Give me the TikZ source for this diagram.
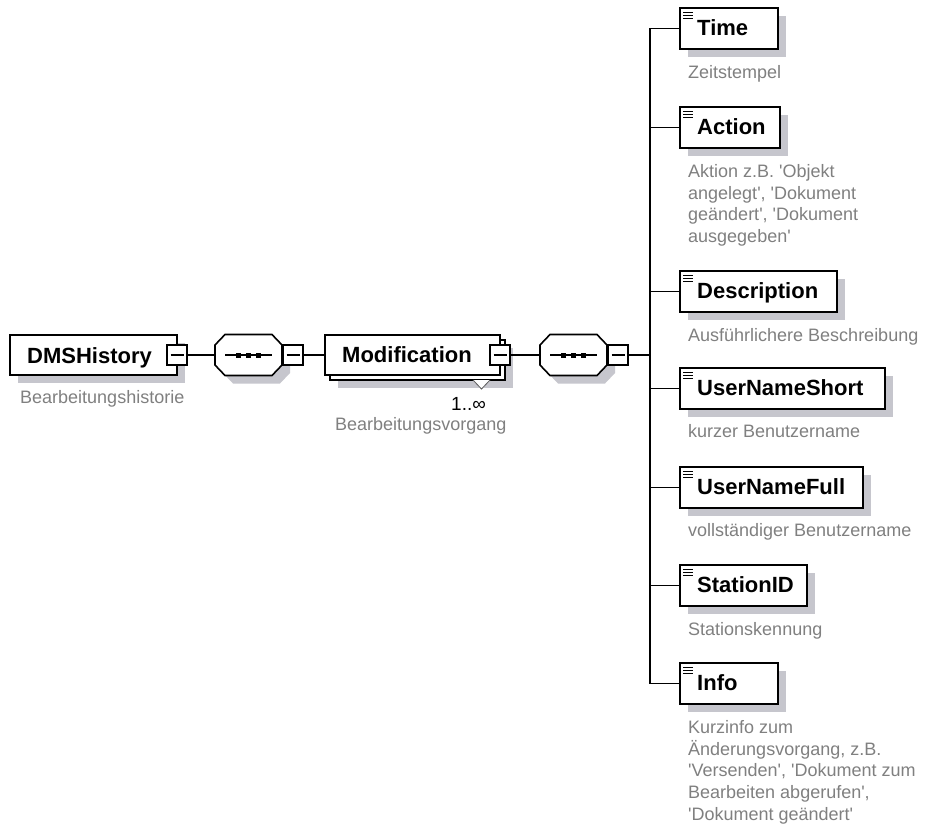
\documentclass[tikz,border=0pt]{standalone}
\usepackage{fontspec}
\setmainfont{Liberation Sans}[Ligatures=TeXOff]
\usetikzlibrary{shadows,calc}
\definecolor{shadowc}{RGB}{198,198,205}
\definecolor{labelc}{RGB}{128,128,128}
\definecolor{tric}{RGB}{90,90,90}
\newcommand\fl{\rule{0pt}{14pt}}
\newcommand\octshape[4]{%
  \path[#2] ($(#1.west)+(#3,#4-10)$) -- ($(#1.north west)+(#3+10,#4)$) -- ($(#1.north east)+(#3-10,#4)$) -- ($(#1.east)+(#3,#4-10)$) -- ($(#1.east)+(#3,#4+10)$) -- ($(#1.south east)+(#3-10,#4)$) -- ($(#1.south west)+(#3+10,#4)$) -- ($(#1.west)+(#3,#4+10)$) -- cycle;}
\newcommand\seqinner[1]{%
  \draw[line width=1.4pt] ($(#1.west)+(10,0)$) -- ($(#1.east)+(-10,0)$);
  \foreach \d in {-10,0,10} \fill ($(#1.center)+(\d-2.5,-2.5)$) rectangle ++(5,5);}
\newcommand\minusmark[1]{\draw[line width=1.5pt] ($(#1.west)+(3.5,0)$) -- ($(#1.east)+(-3.5,0)$);}
\newcommand\elemicon[1]{\foreach \k in {4.5,7.5,10.5} \draw[line width=1pt] ($(#1.north west)+(3,\k)$) -- ++(10,0);}
\tikzset{
 conn/.style={line width=1.6pt},
 plainbox/.style={draw, line width=1.6pt, fill=white, rectangle, inner sep=0pt, outer sep=0pt, anchor=north west},
 sbox/.style={plainbox, drop shadow={shadow xshift=8pt, shadow yshift=-8pt, fill=shadowc, opacity=1}},
 minusbox/.style={draw, line width=1.5pt, fill=white, rectangle, inner sep=0pt, outer sep=0pt, minimum width=20pt, minimum height=20pt},
 seqnode/.style={rectangle, inner sep=0pt, outer sep=0pt, minimum width=67pt, minimum height=41pt},
 nametext/.style={inner sep=0pt, anchor=base west, font=\fontsize{22}{26}\selectfont\bfseries},
 desc/.style={inner sep=0pt, anchor=north west, align=left, text=labelc, font=\fontsize{18}{21.8}\selectfont},
 mult/.style={inner sep=0pt, anchor=base west, font=\fontsize{19}{22}\selectfont},
}
\begin{document}
\begin{tikzpicture}[x=1pt,y=-1pt]
\useasboundingbox[fill=white] (0,0) rectangle (930,823);

% ---- DMSHistory
\node[sbox, minimum width=167pt, minimum height=40pt] (dms) at (10,335) {};
\node[nametext] (dmst) at (27,363) {DMSHistory};
\node[minusbox] (dmsm) at (177,355) {};
\minusmark{dmsm}
\node[desc] (dmsd) at (20,389) {\fl Bearbeitungshistorie};

% ---- sequence 1
\node[seqnode] (seq1) at (248.5,355) {};
\octshape{seq1}{fill=shadowc}{8}{8}
\octshape{seq1}{draw, fill=white, line width=1.6pt}{0}{0}
\seqinner{seq1}
\node[minusbox] (seq1m) at (293,355) {};
\minusmark{seq1m}

% ---- Modification
\node[sbox, minimum width=175pt, minimum height=40pt] (modb) at (330,340) {};
\filldraw[fill=white, draw=tric, line width=0.8pt] (473,380) -- (481.5,389) -- (490,380);
\node[plainbox, minimum width=175pt, minimum height=40pt] (mod) at (325,335) {};
\node[nametext] (modt) at (342,362) {Modification};
\node[minusbox] (modm) at (500,355) {};
\minusmark{modm}
\node[mult] (modmult) at (451,410) {1..∞};
\node[desc] (modd) at (335,416) {\fl Bearbeitungsvorgang};

% ---- sequence 2
\node[seqnode] (seq2) at (573.5,355) {};
\octshape{seq2}{fill=shadowc}{8}{8}
\octshape{seq2}{draw, fill=white, line width=1.6pt}{0}{0}
\seqinner{seq2}
\node[minusbox] (seq2m) at (618,355) {};
\minusmark{seq2m}
\coordinate (bus) at (650,355);

% ---- connectors on the left
\draw[conn] (dmsm.east) -- (seq1.west);
\draw[conn] (seq1m.east) -- (mod.west);
\draw[conn] (modm.east) -- (seq2.west);
\draw[conn] (seq2m.east) -- (bus);

% ---- child elements
\node[sbox, minimum width=98pt, minimum height=41pt] (time) at (680,8) {};
\elemicon{time}
\node[nametext] (timet) at (697,35.5) {Time};
\node[desc] (timed) at (688,64) {\fl Zeitstempel};

\node[sbox, minimum width=100pt, minimum height=41pt] (action) at (680,107) {};
\elemicon{action}
\node[nametext] (actiont) at (697,134.5) {Action};
\node[desc] (actiond) at (688,163) {\fl Aktion z.B. 'Objekt\\angelegt', 'Dokument\\geändert', 'Dokument\\ausgegeben'};

\node[sbox, minimum width=157pt, minimum height=41pt] (descr) at (680,271) {};
\elemicon{descr}
\node[nametext] (descrt) at (697,298.5) {Description};
\node[desc] (descrd) at (688,327) {\fl Ausführlichere Beschreibung};

\node[sbox, minimum width=205pt, minimum height=41pt] (uns) at (680,368) {};
\elemicon{uns}
\node[nametext] (unst) at (697,395.5) {UserNameShort};
\node[desc] (unsd) at (688,423) {\fl kurzer Benutzername};

\node[sbox, minimum width=183pt, minimum height=41pt] (unf) at (680,467) {};
\elemicon{unf}
\node[nametext] (unft) at (697,494.5) {UserNameFull};
\node[desc] (unfd) at (688,522) {\fl vollständiger Benutzername};

\node[sbox, minimum width=127pt, minimum height=41pt] (stat) at (680,565) {};
\elemicon{stat}
\node[nametext] (statt) at (697,592.5) {StationID};
\node[desc] (statd) at (688,621) {\fl Stationskennung};

\node[sbox, minimum width=98pt, minimum height=41pt] (info) at (680,663) {};
\elemicon{info}
\node[nametext] (infot) at (697,690.5) {Info};
\node[desc] (infod) at (688,719) {\fl Kurzinfo zum\\Änderungsvorgang, z.B.\\'Versenden', 'Dokument zum\\Bearbeiten abgerufen',\\'Dokument geändert'};

% ---- bus and branches
\draw[conn] (time.west) -- (time.west -| bus) -- (info.west -| bus) -- (info.west);
\foreach \n in {action,descr,uns,unf,stat} \draw[conn] (\n.west) -- (\n.west -| bus);
\end{tikzpicture}
\end{document}
